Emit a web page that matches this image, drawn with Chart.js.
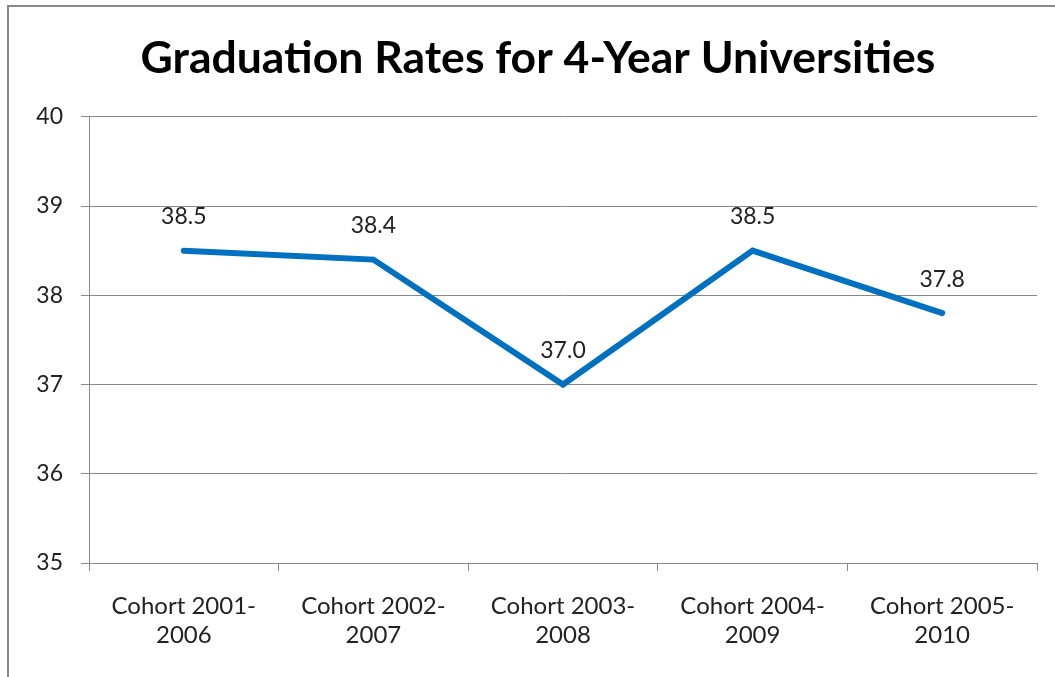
<!DOCTYPE html>
<html>
<head>
<meta charset="utf-8">
<script src="https://cdn.jsdelivr.net/npm/chart.js@4/dist/chart.umd.min.js"></script>
<style>
  html, body { margin: 0; padding: 0; background: #fff; }
  #wrap { position: relative; width: 1055px; height: 677px; overflow: hidden; }
  #frame { position: absolute; left: 7px; top: 5px; width: 1100px; height: 700px; border: 2px solid #888; box-sizing: border-box; }
  canvas { position: absolute; left: 0; top: 0; }
</style>
</head>
<body>
<div id="wrap">
  <div id="frame"></div>
  <canvas id="chart" width="1055" height="677"></canvas>
</div>
<script>
const categories = [
  ['Cohort 2001-', '2006'],
  ['Cohort 2002-', '2007'],
  ['Cohort 2003-', '2008'],
  ['Cohort 2004-', '2009'],
  ['Cohort 2005-', '2010']
];
const rates = [38.5, 38.4, 37.0, 38.5, 37.8];
const yMin = 35;
const yMax = 40;
const yStep = 1;

const FONT = 'Lato, "Open Sans", sans-serif';

// labels above each point, like the spreadsheet's data labels
const valueLabels = {
  id: 'valueLabels',
  afterDatasetsDraw(chart) {
    const ctx = chart.ctx;
    const meta = chart.getDatasetMeta(0);
    ctx.save();
    ctx.font = '23px ' + FONT;
    ctx.fillStyle = '#222';
    ctx.textAlign = 'center';
    ctx.textBaseline = 'middle';
    meta.data.forEach((pt, i) => {
      ctx.fillText(rates[i].toFixed(1), pt.x, pt.y - 34);
    });
    ctx.restore();
  }
};

// the original title sits centred on the whole frame, not the padded box
const shiftTitle = {
  id: 'shiftTitle',
  afterLayout(chart) {
    if (chart.titleBlock) {
      chart.titleBlock.left += 15;
      chart.titleBlock.right += 15;
    }
  }
};

const ctx = document.getElementById('chart').getContext('2d');
new Chart(ctx, {
  type: 'line',
  data: {
    labels: categories,
    datasets: [{
      data: rates,
      borderColor: '#0070C0',
      borderWidth: 6,
      pointRadius: 0,
      tension: 0,
      borderCapStyle: 'round',
      borderJoinStyle: 'miter'
    }]
  },
  options: {
    responsive: false,
    animation: false,
    layout: { padding: { left: 9, right: 18, top: 20, bottom: 0 } },
    plugins: {
      legend: { display: false },
      tooltip: { enabled: false },
      title: {
        display: true,
        text: 'Graduation Rates for 4-Year Universities',
        color: '#000',
        font: { family: FONT, size: 44.5, weight: 'bold' },
        padding: { top: 12, bottom: 31.4 }
      }
    },
    scales: {
      x: {
        offset: true,
        grid: { offset: true, drawOnChartArea: false, drawTicks: true, tickLength: 8, color: '#888' },
        border: { color: '#888' },
        ticks: { color: '#222', font: { family: FONT, size: 24 }, padding: 21, maxRotation: 0 },
        afterFit(scale) { scale.height = 114; }
      },
      y: {
        min: yMin,
        max: yMax,
        ticks: { stepSize: yStep, color: '#222', font: { family: FONT, size: 23 }, padding: 18 },
        grid: { color: '#888', tickLength: 8 },
        border: { color: '#888' },
        afterFit(scale) { scale.width = 80; }
      }
    }
  },
  plugins: [valueLabels, shiftTitle]
});
</script>
</body>
</html>
